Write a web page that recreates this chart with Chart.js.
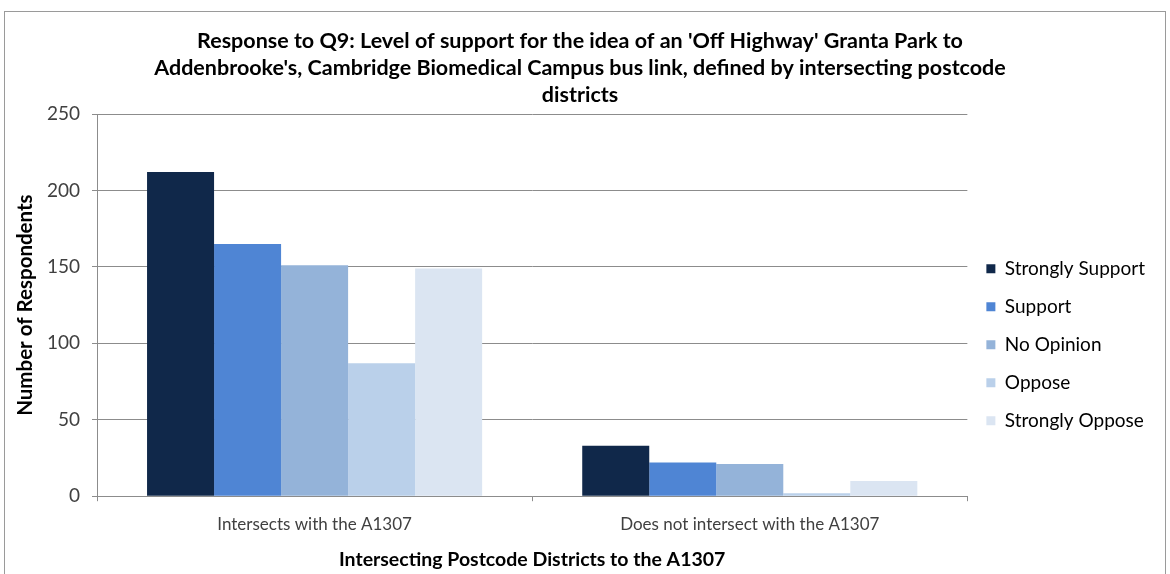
<!DOCTYPE html>
<html>
<head>
<meta charset="utf-8">
<script src="https://cdn.jsdelivr.net/npm/chart.js@4"></script>
<style>
  html, body { margin: 0; padding: 0; background: #fff; overflow: hidden; }
  #frame {
    position: absolute; left: 4px; top: 11px;
    width: 1160px; height: 580px;
    border: 1px solid #9a9a9a;
  }
  #chartBox { position: relative; width: 1160px; height: 560px; }
</style>
</head>
<body>
<div id="frame"><div id="chartBox"><canvas id="q9Chart"></canvas></div></div>
<script>
// データ
const categories = ['Intersects with the A1307', 'Does not intersect with the A1307'];
const seriesNames = ['Strongly Support', 'Support', 'No Opinion', 'Oppose', 'Strongly Oppose'];
const stronglySupport = [212, 33];
const support = [165, 22];
const noOpinion = [151, 21];
const oppose = [87, 2];
const stronglyOppose = [149, 10];
const yTicks = [0, 50, 100, 150, 200, 250];

const seriesValues = [stronglySupport, support, noOpinion, oppose, stronglyOppose];
const seriesColors = ['#10284a', '#4f85d4', '#94b3d9', '#bad0ea', '#dbe5f2'];

const FONT = 'Lato, "Open Sans", sans-serif';
const GRID = '#8c8c8c';

const chartConfig = {
  type: 'bar',
  data: {
    labels: categories,
    datasets: seriesNames.map((name, i) => ({
      label: name,
      data: seriesValues[i],
      backgroundColor: seriesColors[i],
      borderWidth: 0,
      barPercentage: 1.0,
      categoryPercentage: 0.77
    }))
  },
  options: {
    responsive: true,
    maintainAspectRatio: false,
    animation: false,
    layout: { padding: { left: 0, right: 10, top: 16, bottom: 1 } },
    plugins: {
      title: {
        display: true,
        text: [
          "Response to Q9: Level of support for the idea of an 'Off Highway' Granta Park to",
          "Addenbrooke's, Cambridge Biomedical Campus bus link, defined by intersecting postcode",
          'districts'
        ],
        color: '#000',
        font: { family: FONT, size: 21.5, weight: 'bold', lineHeight: 1.256 },
        padding: { top: 0, bottom: 5 }
      },
      legend: {
        position: 'right',
        title: { display: true, text: ' ', font: { size: 2 }, padding: { top: 0, bottom: 88 } },
        labels: {
          color: '#000',
          font: { family: FONT, size: 19 },
          boxWidth: 9,
          boxHeight: 9,
          padding: 19
        }
      },
      tooltip: { enabled: false }
    },
    scales: {
      x: {
        grid: { drawOnChartArea: false, drawTicks: true, tickLength: 5, color: GRID },
        border: { color: GRID },
        ticks: { color: '#404040', font: { family: FONT, size: 17 }, padding: 13 },
        title: {
          display: true,
          text: 'Intersecting Postcode Districts to the A1307',
          color: '#000',
          font: { family: FONT, size: 19.5, weight: 'bold' },
          padding: { top: 0, bottom: 0 }
        }
      },
      y: {
        min: 0,
        max: 250,
        afterBuildTicks: scale => { scale.ticks = yTicks.map(v => ({ value: v })); },
        afterFit: scale => { scale.width = 92; },
        grid: { color: GRID, tickLength: 5 },
        border: { color: GRID },
        ticks: { color: '#404040', font: { family: FONT, size: 19 }, padding: 12 },
        title: {
          display: true,
          text: 'Number of Respondents',
          color: '#000',
          font: { family: FONT, size: 20.5, weight: 'bold' },
          padding: { top: 8, bottom: 0 }
        }
      }
    }
  }
};

const q9Chart = new Chart(document.getElementById('q9Chart'), chartConfig);
</script>
</body>
</html>
